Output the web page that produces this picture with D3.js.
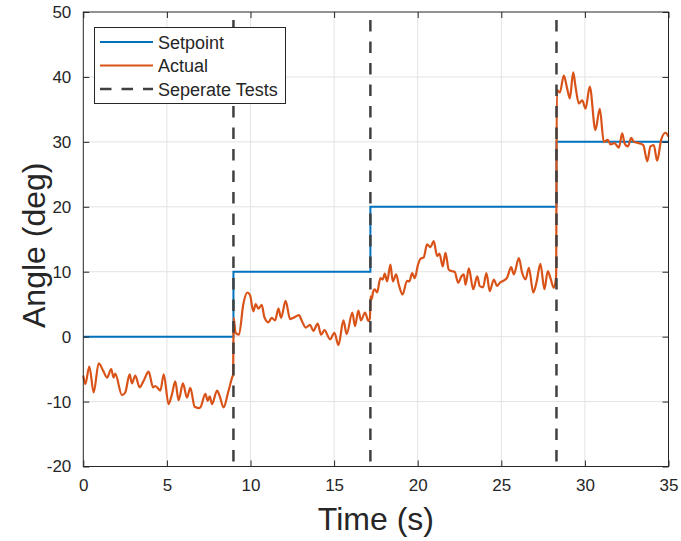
<!DOCTYPE html>
<html>
<head>
<meta charset="utf-8">
<script src="https://cdn.jsdelivr.net/npm/d3@7"></script>
<style>
  body { margin: 0; background: #fff; }
  svg text { font-family: "Liberation Sans", Arial, Helvetica, sans-serif; fill: #262626; }
</style>
</head>
<body>
<div id="chart"></div>
<script>
// Test boundaries and setpoint per test
var testStarts = [0, 8.98, 17.17, 28.3];
var setpointLevels = [0, 10, 20, 30];
var endTime = 35;

var timeS = [0, 0.12, 0.36, 0.62, 0.92, 1.18, 1.42, 1.67, 1.81, 1.91, 2.31, 2.51, 2.77, 2.91, 3.11, 3.37, 3.61, 3.91,
  4.17, 4.31, 4.61, 4.81, 5.10, 5.31, 5.50, 5.70, 5.96, 6.20, 6.40, 6.66, 6.90, 7.00, 7.30, 7.44, 7.56, 7.70,
  8.00, 8.15, 8.39, 8.66, 8.90, 8.96, 8.99, 9.11, 9.31, 9.57, 9.81, 9.97, 10.17, 10.31, 10.47, 10.67, 10.83,
  11.07, 11.27, 11.47, 11.67, 11.83, 12.10, 12.37, 12.56, 12.90, 13.06, 13.30, 13.56, 13.76, 14.02, 14.22,
  14.42, 14.76, 15.02, 15.26, 15.56, 15.75, 16.09, 16.25, 16.45, 16.61, 16.85, 17.05, 17.14, 17.18, 17.25,
  17.33, 17.43, 17.57, 17.77, 17.91, 18.03, 18.17, 18.37, 18.51, 18.71, 18.87, 19.10, 19.36, 19.50, 19.67,
  19.82, 20.02, 20.17, 20.36, 20.56, 20.76, 20.96, 21.16, 21.30, 21.50, 21.66, 21.86, 22.02, 22.21, 22.42,
  22.62, 22.76, 22.86, 23.06, 23.32, 23.56, 23.71, 23.91, 24.11, 24.31, 24.55, 24.75, 24.91, 25.11, 25.35,
  25.59, 25.75, 26.05, 26.25, 26.45, 26.65, 26.91, 27.10, 27.34, 27.58, 27.78, 27.94, 28.14, 28.28, 28.32,
  28.50, 28.74, 28.94, 29.10, 29.30, 29.44, 29.64, 29.84, 30.04, 30.29, 30.63, 30.89, 31.13, 31.37, 31.53,
  31.77, 32.03, 32.23, 32.37, 32.57, 32.77, 32.93, 33.22, 33.49, 33.73, 33.92, 34.12, 34.32, 34.56, 34.82, 35];
var angleDeg = [-6.0, -7.3, -4.6, -8.6, -4.1, -5.2, -6.3, -5.0, -6.3, -5.7, -9.0, -8.6, -5.8, -7.2, -6.0, -7.8, -6.8, -5.4,
  -7.8, -7.6, -8.3, -5.8, -10.4, -8.8, -6.9, -9.8, -7.2, -9.4, -7.9, -10.8, -11.0, -10.9, -8.8, -9.9, -9.2, -10.4,
  -8.3, -9.1, -10.9, -8.6, -6.3, -5.8, 2.9, 0.6, 0.3, 5.0, 6.8, 6.4, 3.9, 5.0, 4.3, 4.9, 3.0,
  2.2, 2.9, 2.5, 4.3, 2.9, 5.5, 2.7, 2.9, 3.3, 2.5, 1.4, 1.8, 0.9, 2.0, 0.3,
  1.0, -0.4, 0.6, -1.3, 2.5, 0.4, 3.7, 1.6, 4.0, 2.5, 3.7, 2.4, 2.8, 6.2, 5.8,
  6.9, 7.3, 6.8, 9.0, 8.8, 9.7, 8.5, 11.1, 8.5, 9.6, 8.0, 6.5, 8.6, 8.5, 9.8,
  9.0, 11.1, 12.0, 12.2, 14.2, 13.8, 14.7, 12.4, 12.8, 10.8, 12.9, 10.3, 10.1, 10.0, 8.3,
  9.3, 9.6, 8.0, 10.5, 7.3, 9.3, 7.8, 7.6, 9.8, 7.0, 8.8, 7.8, 8.3, 8.6, 9.1,
  10.7, 9.6, 12.1, 9.8, 8.8, 10.6, 6.8, 8.3, 11.2, 7.3, 10.1, 9.0, 7.5, 9.3, 38.0,
  37.6, 40.2, 38.2, 36.7, 40.7, 38.5, 35.9, 36.4, 35.1, 38.5, 31.8, 35.1, 30.0, 30.3, 29.6,
  29.8, 29.1, 31.3, 29.8, 29.3, 30.6, 30.0, 29.8, 29.5, 27.0, 29.3, 29.5, 27.1, 30.3, 31.4, 30.8];

var yTicks = [-20, -10, 0, 10, 20, 30, 40, 50];
var xTicks = [0, 5, 10, 15, 20, 25, 30, 35];

var width = 681, height = 541;
var plotLeft = 83.3, plotRight = 668.5, plotTop = 12, plotBottom = 466.5;

var svg = d3.select("#chart").append("svg")
  .attr("width", width)
  .attr("height", height);

var x = d3.scaleLinear().domain([0, 35]).range([plotLeft, plotRight]);
var y = d3.scaleLinear().domain([-20, 50]).range([plotBottom, plotTop]);

// grid
svg.append("g").selectAll("line").data(xTicks.slice(1, -1)).enter().append("line")
  .attr("x1", d => x(d)).attr("x2", d => x(d))
  .attr("y1", plotTop).attr("y2", plotBottom)
  .attr("stroke", "#e3e3e3").attr("stroke-width", 1);
svg.append("g").selectAll("line").data(yTicks.slice(1, -1)).enter().append("line")
  .attr("y1", d => y(d)).attr("y2", d => y(d))
  .attr("x1", plotLeft).attr("x2", plotRight)
  .attr("stroke", "#e3e3e3").attr("stroke-width", 1);

// setpoint steps
var setpointData = [];
testStarts.forEach((t, i) => {
  var tEnd = i < testStarts.length - 1 ? testStarts[i + 1] : endTime;
  setpointData.push([t, setpointLevels[i]]);
  setpointData.push([tEnd, setpointLevels[i]]);
});
var line = d3.line().x(d => x(d[0])).y(d => y(d[1]));

svg.append("path")
  .datum(setpointData)
  .attr("d", line)
  .attr("fill", "none")
  .attr("stroke", "#0072BD")
  .attr("stroke-width", 2);

// actual
var actualData = timeS.map((t, i) => [t, angleDeg[i]]);
svg.append("path")
  .datum(actualData)
  .attr("d", d3.line().x(d => x(d[0])).y(d => y(d[1])).curve(d3.curveMonotoneX))
  .attr("fill", "none")
  .attr("stroke", "#D95319")
  .attr("stroke-width", 2.2)
  .attr("stroke-linejoin", "round");

// separate tests
svg.append("g").selectAll("line").data(testStarts.slice(1)).enter().append("line")
  .attr("x1", d => x(d)).attr("x2", d => x(d))
  .attr("y1", y(50)).attr("y2", y(-20))
  .attr("stroke", "#404040")
  .attr("stroke-width", 2.5)
  .attr("stroke-dasharray", "11.5,10")
  .attr("stroke-dashoffset", 13.5);

// axes box
svg.append("rect")
  .attr("x", plotLeft).attr("y", plotTop)
  .attr("width", plotRight - plotLeft).attr("height", plotBottom - plotTop)
  .attr("fill", "none").attr("stroke", "#262626").attr("stroke-width", 1);

var tickLen = 6;
var axisBottom = d3.axisBottom(x).tickValues(xTicks).tickSize(-tickLen).tickPadding(12).tickFormat(d => String(d));
var axisLeft = d3.axisLeft(y).tickValues(yTicks).tickSize(-tickLen).tickPadding(12).tickFormat(d => String(d));
var axisTop = d3.axisTop(x).tickValues(xTicks).tickSize(-tickLen).tickFormat("");
var axisRight = d3.axisRight(y).tickValues(yTicks).tickSize(-tickLen).tickFormat("");

function styleAxis(g) {
  g.select(".domain").remove();
  g.selectAll(".tick line").attr("stroke", "#262626");
  g.selectAll(".tick text").attr("fill", "#262626").style("font-size", "17px")
    .style("font-family", '"Liberation Sans", Arial, Helvetica, sans-serif');
}
svg.append("g").attr("transform", "translate(0," + plotBottom + ")").call(axisBottom).call(styleAxis);
svg.append("g").attr("transform", "translate(" + plotLeft + ",0)").call(axisLeft).call(styleAxis);
svg.append("g").attr("transform", "translate(0," + plotTop + ")").call(axisTop).call(styleAxis);
svg.append("g").attr("transform", "translate(" + plotRight + ",0)").call(axisRight).call(styleAxis);

// axis labels
svg.append("text")
  .attr("x", (plotLeft + plotRight) / 2).attr("y", 530)
  .attr("text-anchor", "middle")
  .style("font-size", "32px")
  .text("Time (s)");
svg.append("text")
  .attr("transform", "translate(45," + ((plotTop + plotBottom) / 2 + 6) + ") rotate(-90)")
  .attr("text-anchor", "middle")
  .style("font-size", "32px")
  .text("Angle (deg)");

// legend
var legend = svg.append("g");
legend.append("rect")
  .attr("x", 94.5).attr("y", 27.5).attr("width", 191).attr("height", 76)
  .attr("fill", "#fff").attr("stroke", "#262626").attr("stroke-width", 1);
var legendItems = [
  { label: "Setpoint", color: "#0072BD", dash: null, w: 2 },
  { label: "Actual", color: "#D95319", dash: null, w: 2 },
  { label: "Seperate Tests", color: "#404040", dash: "11.5,10", w: 2.5 }
];
legendItems.forEach((d, i) => {
  var ly = 42 + i * 23.5;
  legend.append("line")
    .attr("x1", 100).attr("x2", 153)
    .attr("y1", ly).attr("y2", ly)
    .attr("stroke", d.color).attr("stroke-width", d.w)
    .attr("stroke-dasharray", d.dash);
  legend.append("text")
    .attr("x", 158).attr("y", ly + 6.5)
    .style("font-size", "18px")
    .text(d.label);
});
</script>
</body>
</html>
